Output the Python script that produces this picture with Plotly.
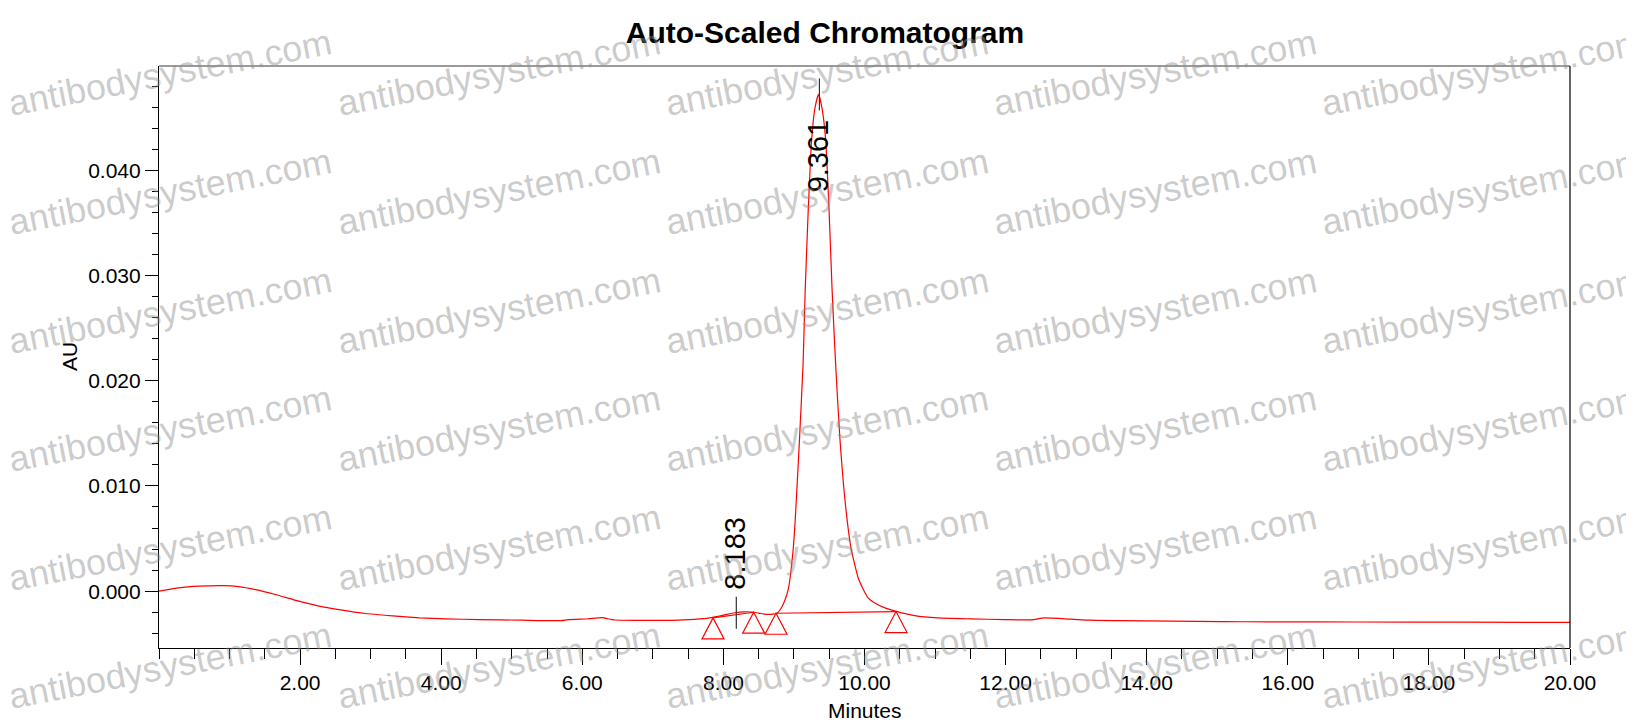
import plotly.graph_objects as go

# ---------------- data ----------------
time_min = [0.00, 0.28, 0.57, 0.90, 1.13, 1.37, 1.65, 1.98, 2.27, 2.55, 2.93, 3.31, 3.69,
            4.06, 4.54, 5.14, 5.70, 5.80, 6.08, 6.29, 6.36, 6.46, 6.79, 7.26, 7.59, 7.83,
            8.02, 8.16, 8.30, 8.40, 8.50, 8.60, 8.70, 8.76, 8.82, 8.87, 8.92, 8.99, 9.025,
            9.08, 9.13, 9.16, 9.20, 9.25, 9.30, 9.35, 9.40, 9.45, 9.50, 9.54, 9.59, 9.65,
            9.74, 9.81, 9.91, 9.98, 10.05, 10.14, 10.29, 10.45, 10.71, 11.04, 11.51, 11.99,
            12.36, 12.55, 12.79, 13.17, 13.64, 14.35, 15.06, 15.72, 17.00, 18.50, 20.00]
absorbance = [0.00000, 0.00031, 0.00047, 0.00053, 0.00044, 0.00015, -0.00032, -0.00095,
              -0.00142, -0.00175, -0.00212, -0.00234, -0.00253, -0.00263, -0.00270, -0.00276,
              -0.00280, -0.00271, -0.00262, -0.00251, -0.00262, -0.00274, -0.00277, -0.00277,
              -0.00268, -0.00252, -0.00225, -0.00205, -0.00196, -0.00198, -0.00208, -0.00220,
              -0.00218, -0.00210, -0.00160, -0.00088, 0.00020, 0.00405, 0.00758, 0.01463,
              0.02168, 0.02874, 0.03578, 0.04284, 0.04600, 0.04720, 0.04580, 0.04284, 0.03578,
              0.02874, 0.02168, 0.01463, 0.00758, 0.00405, 0.00127, 0.00020, -0.00064, -0.00110,
              -0.00159, -0.00192, -0.00232, -0.00254, -0.00263, -0.00270, -0.00273, -0.00254,
              -0.00260, -0.00276, -0.00280, -0.00285, -0.00289, -0.00292, -0.00293, -0.00295,
              -0.00297]

# integration marks (peak start / end triangles)
tri_times = [7.853, 8.429, 8.746, 10.447]
tri_values = [-0.00254, -0.00200, -0.00210, -0.00194]

# peak apex labels
peak_times = [8.183, 9.361]
peak_values = [-0.00206, 0.0472]
peak_labels = ["8.183", "9.361"]

x_tick_vals = [2, 4, 6, 8, 10, 12, 14, 16, 18, 20]
x_tick_text = ["2.00", "4.00", "6.00", "8.00", "10.00", "12.00", "14.00", "16.00", "18.00", "20.00"]
y_tick_vals = [0.0, 0.01, 0.02, 0.03, 0.04]
y_tick_text = ["0.000", "0.010", "0.020", "0.030", "0.040"]

watermark_text = "antibodysystem.com"

# ---------------- layout constants ----------------
W, H = 1634, 722
L, R, T, B = 151, 1562, 58, 640
X_RANGE = [0, 20]
Y_RANGE = [-0.0054, 0.0499]
FONT = "Arial, Liberation Sans, sans-serif"
RED = "#ff0000"


def px_x(px):
    return (px - L) / (R - L)


def px_y(py):
    return (B - py) / (B - T)


px_per_y = (B - T) / (Y_RANGE[1] - Y_RANGE[0])

fig = go.Figure()

fig.add_trace(go.Scatter(x=time_min, y=absorbance, mode="lines",
                         line=dict(color=RED, width=1.2, shape="spline", smoothing=0.5),
                         hoverinfo="x+y", showlegend=False))

# baselines between integration marks
for i in (0, 2):
    fig.add_trace(go.Scatter(x=[tri_times[i], tri_times[i + 1]],
                             y=[tri_values[i], tri_values[i + 1]],
                             mode="lines", line=dict(color=RED, width=1.2),
                             hoverinfo="skip", showlegend=False))

shapes = []
# triangles, apex on the curve
for t, v in zip(tri_times, tri_values):
    shapes.append(dict(type="path", xref="x", yref="y", xsizemode="pixel", ysizemode="pixel",
                       xanchor=t, yanchor=v, path="M0,0 L-11,-21 L11,-21 Z",
                       line=dict(color=RED, width=1.2), fillcolor="rgba(0,0,0,0)"))

annotations = []
label_len_px = 78
for t, v, lab in zip(peak_times, peak_values, peak_labels):
    shapes.append(dict(type="line", xref="x", yref="y", ysizemode="pixel", yanchor=v,
                       x0=t, x1=t, y0=-16, y1=16, line=dict(color="#303030", width=1.2)))
    room_above = (Y_RANGE[1] - v) * px_per_y
    if room_above > 16 + 8 + label_len_px:
        annotations.append(dict(x=t, y=v, xref="x", yref="y", text=lab, showarrow=False,
                                textangle=-90, yanchor="bottom", xanchor="center",
                                yshift=22, xshift=-1, borderpad=0,
                                font=dict(family=FONT, size=29, color="black")))
    else:
        annotations.append(dict(x=t, y=v, xref="x", yref="y", text=lab, showarrow=False,
                                textangle=-90, yanchor="top", xanchor="center",
                                yshift=-24, xshift=-2, borderpad=0,
                                font=dict(family=FONT, size=29, color="black")))

# frame: grey top, black right
shapes.append(dict(type="line", xref="paper", yref="paper", x0=0, x1=1, y0=1, y1=1,
                   line=dict(color="#7a7a7a", width=1.5)))
shapes.append(dict(type="line", xref="paper", yref="paper", x0=1, x1=1, y0=0, y1=1,
                   line=dict(color="black", width=1.2)))

# axis titles
annotations.append(dict(x=0.5, y=px_y(702), xref="paper", yref="paper", text="Minutes",
                        showarrow=False, xanchor="center", yanchor="middle",
                        font=dict(family=FONT, size=21, color="black")))
annotations.append(dict(x=px_x(61), y=0.5, xref="paper", yref="paper", text="AU",
                        showarrow=False, xanchor="center", yanchor="middle", textangle=-90,
                        font=dict(family=FONT, size=21, color="black")))

# watermark grid
wm_cols = [162, 491, 819, 1147, 1475]
wm_rows = [65, 183.5, 302, 420.5, 539, 657.5]
for cy in wm_rows:
    for cx in wm_cols:
        annotations.append(dict(x=px_x(cx), y=px_y(cy), xref="paper", yref="paper",
                                text=watermark_text, showarrow=False, textangle=-11,
                                xanchor="center", yanchor="middle",
                                font=dict(family=FONT, size=36, color="rgba(140,140,140,0.45)")))

fig.update_layout(
    width=W, height=H,
    margin=dict(l=L, r=W - R, t=T, b=H - B, pad=0),
    paper_bgcolor="white", plot_bgcolor="white",
    title=dict(text="<b>Auto-Scaled Chromatogram</b>", x=0.5, xanchor="center",
               y=1 - 24 / H, yanchor="middle", yref="container",
               font=dict(family=FONT, size=30, color="black")),
    xaxis=dict(range=X_RANGE, showgrid=False, zeroline=False, showline=True,
               linecolor="black", linewidth=1.2, ticks="outside", ticklen=16,
               tickwidth=1.2, tickcolor="black", tickvals=x_tick_vals, ticktext=x_tick_text,
               tickfont=dict(family=FONT, size=21, color="black"),
               minor=dict(dtick=0.5, tick0=0, ticks="outside", ticklen=10, tickwidth=1.2,
                          tickcolor="black", showgrid=False)),
    yaxis=dict(range=Y_RANGE, showgrid=False, zeroline=False, showline=True,
               linecolor="black", linewidth=1.2, ticks="outside", ticklen=13,
               tickwidth=1.2, tickcolor="black", tickvals=y_tick_vals, ticktext=y_tick_text,
               tickfont=dict(family=FONT, size=21, color="black"),
               minor=dict(dtick=0.002, tick0=0, ticks="outside", ticklen=6, tickwidth=1.2,
                          tickcolor="black", showgrid=False)),
    shapes=shapes,
    annotations=annotations,
    showlegend=False,
)

fig.write_html("out.html")
